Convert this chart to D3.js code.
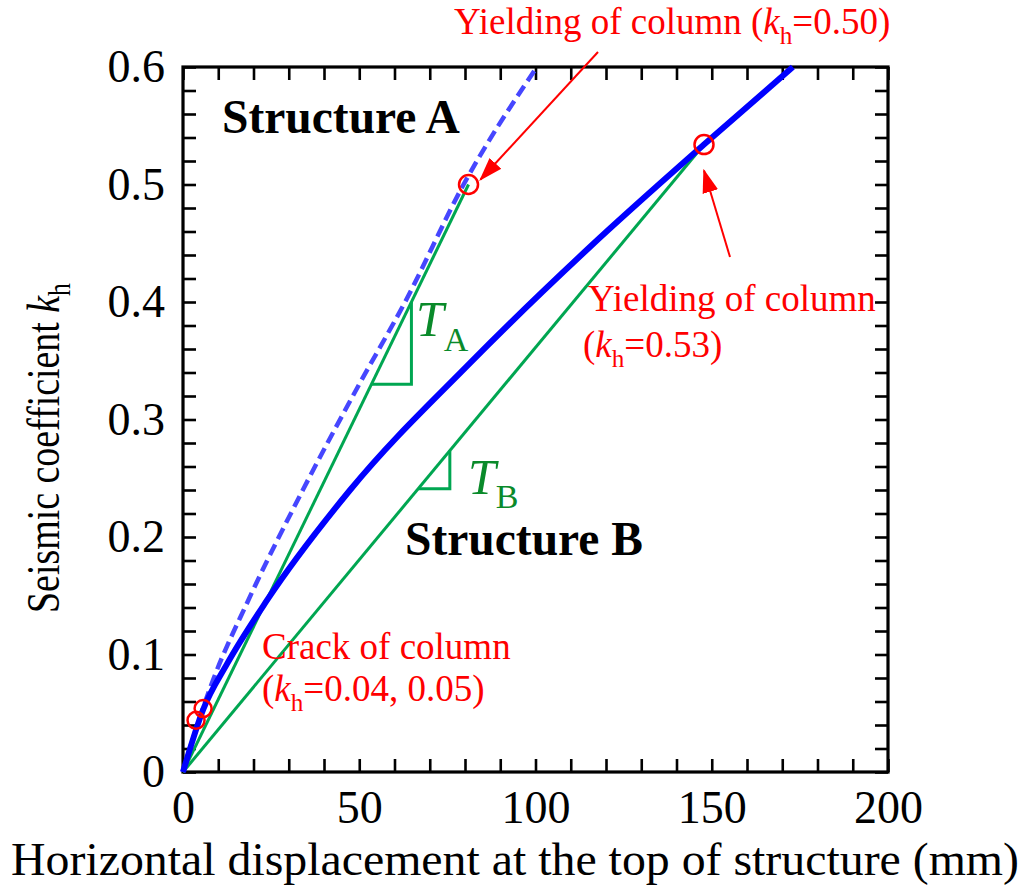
<!DOCTYPE html>
<html>
<head>
<meta charset="utf-8">
<script src="https://cdn.jsdelivr.net/npm/d3@7"></script>
<style>
  html, body { margin: 0; padding: 0; background: #fff; }
  svg { display: block; }
  text { font-family: "Liberation Serif", "Times New Roman", serif; }
</style>
</head>
<body>
<svg id="chart" width="1025" height="894"></svg>
<script>
// Structure A: pushover curve (dashed)
const structA_disp = [0, 3.4, 8.5, 18.5, 34, 50, 63, 79.6, 100.4];
const structA_kh   = [0, 0.034, 0.078, 0.146, 0.24, 0.33, 0.40, 0.50, 0.60];
// Structure B: pushover curve (solid)
const structB_disp = [0, 5.7, 12.5, 23.8, 47.4, 81.4, 115.5, 147.8, 173];
const structB_kh   = [0, 0.053, 0.092, 0.146, 0.24, 0.348, 0.447, 0.534, 0.60];

// Column events
const crackDisp = [3.7, 5.7];
const crackKh   = [0.044, 0.054];
const yieldDisp = [81, 147.8];
const yieldKh   = [0.50, 0.534];

// Slope-triangle heights (kh at bottom and top of vertical leg)
const triA_kh = [0.33, 0.40];
const triB_kh = [0.241, 0.2735];

// Axis ticks
const xMinorTicks = d3.range(0, 201, 10);
const xLabelTicks = [0, 50, 100, 150, 200];
const yMinorTicks = d3.range(0, 31).map(i => +(i * 0.02).toFixed(2));
const yLabelTicks = [0, 0.1, 0.2, 0.3, 0.4, 0.5, 0.6];

const svg = d3.select("#chart");
const plotLeft = 183, plotRight = 888, plotTop = 67, plotBottom = 772;
const x = d3.scaleLinear().domain([0, 200]).range([plotLeft, plotRight]);
const y = d3.scaleLinear().domain([0, 0.6]).range([plotBottom, plotTop]);

const BLUE = "#0000ff", BLUE_DASH = "#4646ff", GREEN = "#00a651", RED = "#ff0000";
const tickLen = 13;

function isLabelled(v, list) { return list.some(l => Math.abs(l - v) < 1e-9); }

// Axes (ticks pointing inward, mirrored on top and right)
const gx = svg.append("g").attr("transform", `translate(0,${plotBottom})`)
  .call(d3.axisBottom(x).tickValues(xMinorTicks).tickSize(-tickLen).tickPadding(18)
    .tickFormat(d => isLabelled(d, xLabelTicks) ? d3.format("d")(d) : ""));
const gy = svg.append("g").attr("transform", `translate(${plotLeft},0)`)
  .call(d3.axisLeft(y).tickValues(yMinorTicks).tickSize(-tickLen).tickPadding(18)
    .tickFormat(d => isLabelled(d, yLabelTicks) ? (d === 0 ? "0" : d3.format(".1f")(d)) : ""));
const gt = svg.append("g").attr("transform", `translate(0,${plotTop})`)
  .call(d3.axisTop(x).tickValues(xMinorTicks).tickSize(-tickLen).tickFormat(""));
const gr = svg.append("g").attr("transform", `translate(${plotRight},0)`)
  .call(d3.axisRight(y).tickValues(yMinorTicks).tickSize(-tickLen).tickFormat(""));

[gx, gy, gt, gr].forEach(g => {
  g.select(".domain").remove();
  g.selectAll(".tick line").attr("stroke", "#000").attr("stroke-width", 2.6);
  g.selectAll(".tick text").attr("fill", "#000").attr("font-size", 46)
    .attr("font-family", "Liberation Serif");
});

// Frame
svg.append("rect").attr("x", plotLeft).attr("y", plotTop)
  .attr("width", plotRight - plotLeft).attr("height", plotBottom - plotTop)
  .attr("fill", "none").attr("stroke", "#000").attr("stroke-width", 3.2);

const plot = svg.append("g");
const line = d3.line().x(d => x(d[0])).y(d => y(d[1])).curve(d3.curveMonotoneX);

// Secant lines to yield points
yieldDisp.forEach((dv, i) => {
  plot.append("path").datum([[0, 0], [dv, yieldKh[i]]]).attr("d", line)
    .attr("fill", "none").attr("stroke", GREEN).attr("stroke-width", 3);
});

// Slope triangles
function triangle(dYield, kYield, kk) {
  const slope = kYield / dYield;
  const dTop = kk[1] / slope, dLow = kk[0] / slope;
  plot.append("path").datum([[dLow, kk[0]], [dTop, kk[0]], [dTop, kk[1]]])
    .attr("d", d3.line().x(d => x(d[0])).y(d => y(d[1])))
    .attr("fill", "none").attr("stroke", GREEN).attr("stroke-width", 3);
}
triangle(yieldDisp[0], yieldKh[0], triA_kh);
triangle(yieldDisp[1], yieldKh[1], triB_kh);

// Structure A curve (dashed)
plot.append("path").datum(d3.zip(structA_disp, structA_kh)).attr("d", line)
  .attr("fill", "none").attr("stroke", BLUE_DASH).attr("stroke-width", 4.5)
  .attr("stroke-dasharray", "12,6");

// Structure B curve (solid)
plot.append("path").datum(d3.zip(structB_disp, structB_kh)).attr("d", line)
  .attr("fill", "none").attr("stroke", BLUE).attr("stroke-width", 6);

// Event markers
crackDisp.forEach((dv, i) => {
  plot.append("circle").attr("cx", x(dv)).attr("cy", y(crackKh[i])).attr("r", 8.5)
    .attr("fill", "none").attr("stroke", RED).attr("stroke-width", 2.5);
});
yieldDisp.forEach((dv, i) => {
  plot.append("circle").attr("cx", x(dv)).attr("cy", y(yieldKh[i])).attr("r", 9.5)
    .attr("fill", "none").attr("stroke", RED).attr("stroke-width", 2.5);
});

// Arrows
svg.append("defs").append("marker").attr("id", "head")
  .attr("markerUnits", "userSpaceOnUse").attr("markerWidth", 24).attr("markerHeight", 20)
  .attr("viewBox", "0 -10 24 20").attr("refX", 22).attr("refY", 0).attr("orient", "auto")
  .append("path").attr("d", "M0,-8 L24,0 L0,8 Z").attr("fill", RED);

function arrow(x1, y1, x2, y2) {
  svg.append("line").attr("x1", x1).attr("y1", y1).attr("x2", x2).attr("y2", y2)
    .attr("stroke", RED).attr("stroke-width", 2).attr("marker-end", "url(#head)");
}
arrow(598, 52, x(yieldDisp[0]) + 12, y(yieldKh[0]) - 5);
arrow(730, 257, x(yieldDisp[1]), y(yieldKh[1]) + 26);

// Text helpers
function label(xp, yp, parts, opts) {
  const t = svg.append("text").attr("x", xp).attr("y", yp)
    .attr("font-size", opts.size).attr("fill", opts.color)
    .attr("font-weight", opts.weight || "normal");
  if (opts.anchor) t.attr("text-anchor", opts.anchor);
  if (opts.transform) t.attr("transform", opts.transform);
  if (opts.length) t.attr("textLength", opts.length).attr("lengthAdjust", "spacingAndGlyphs");
  const subDrop = opts.subDrop || 0.24;
  parts.forEach(p => {
    const s = t.append("tspan").text(p.t);
    if (p.italic) s.attr("font-style", "italic");
    if (p.sub) s.attr("font-size", opts.size * 0.68).attr("dy", opts.size * subDrop);
    if (p.up) s.attr("dy", -opts.size * subDrop);
  });
  return t;
}

label(222, 133, [{ t: "Structure A" }], { size: 47.5, color: "#000", weight: "bold" });
label(405, 555, [{ t: "Structure B" }], { size: 47.5, color: "#000", weight: "bold" });

label(416, 336, [{ t: "T", italic: true }, { t: "A", sub: true }], { size: 50, color: "#0a8a2a", subDrop: 0.3 });
label(468, 494, [{ t: "T", italic: true }, { t: "B", sub: true }], { size: 50, color: "#0a8a2a", subDrop: 0.28 });

label(454, 34, [{ t: "Yielding of column (" }, { t: "k", italic: true }, { t: "h", sub: true },
  { t: "=0.50)", up: true }], { size: 37, color: RED, subDrop: 0.28 });
label(588, 311, [{ t: "Yielding of column" }], { size: 37, color: RED });
label(583, 357, [{ t: "(" }, { t: "k", italic: true }, { t: "h", sub: true },
  { t: "=0.53)", up: true }], { size: 37, color: RED, subDrop: 0.28 });
label(262, 659, [{ t: "Crack of column" }], { size: 37, color: RED });
label(262, 701, [{ t: "(" }, { t: "k", italic: true }, { t: "h", sub: true },
  { t: "=0.04, 0.05)", up: true }], { size: 37, color: RED, subDrop: 0.28 });

// Axis titles
label(515, 875, [{ t: "Horizontal displacement at the top of structure (mm)" }],
  { size: 47, color: "#000", anchor: "middle", length: 1008 });
label(0, 0, [{ t: "Seismic coefficient " }, { t: "k", italic: true }, { t: "h", sub: true }],
  { size: 47, color: "#000", anchor: "middle", length: 330, transform: "translate(59,448) rotate(-90)" });
</script>
</body>
</html>
